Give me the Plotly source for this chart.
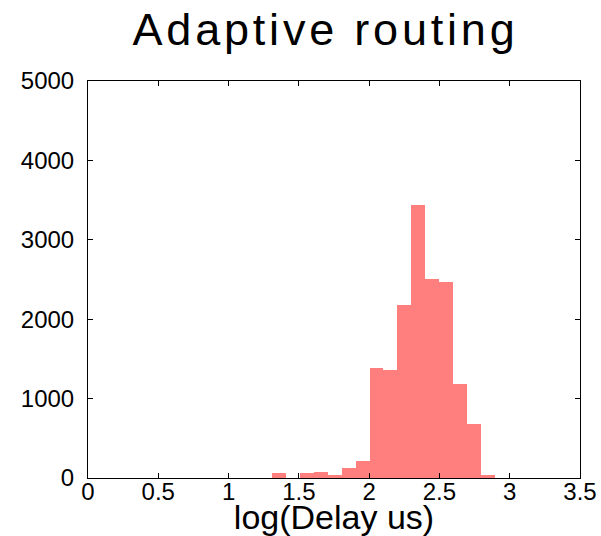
import plotly.graph_objects as go

# histogram of log10(delay in us)
bin_start = 1.31
bin_width = 0.099
counts = [60, 0, 60, 75, 35, 130, 220, 1380, 1355, 2180, 3440, 2505, 2470, 1185, 680, 35]

x_ticks = [0, 0.5, 1, 1.5, 2, 2.5, 3, 3.5]
x_ticktext = ["0", "0.5", "1", "1.5", "2", "2.5", "3", "3.5"]
y_ticks = [0, 1000, 2000, 3000, 4000, 5000]

centers = [bin_start + bin_width * (i + 0.5) for i in range(len(counts))]

fig = go.Figure()
fig.add_trace(go.Bar(
    x=centers, y=counts, width=[bin_width] * len(counts),
    marker=dict(color="rgba(255,0,0,0.5)", line=dict(width=0)),
    showlegend=False,
))

font = "Liberation Sans, Arial, sans-serif"
fig.update_layout(
    width=601, height=536,
    margin=dict(l=88, r=21, t=81, b=58),
    plot_bgcolor="white", paper_bgcolor="white",
    font=dict(family=font, color="black"),
    bargap=0,
    title=dict(text='<span style="letter-spacing:3.8px">Adaptive routing</span>',
               font=dict(size=45, family=font, color="black"),
               x=0.5416, xanchor="center", xref="container",
               y=1 - 45 / 536, yanchor="bottom"),
    xaxis=dict(range=[0, 3.5], tickvals=x_ticks, ticktext=x_ticktext,
               ticks="inside", ticklen=5, tickcolor="black", showline=True,
               linecolor="black", linewidth=1, mirror="ticks", showgrid=False,
               zeroline=False, tickfont=dict(size=24), automargin=False,
               ticklabelstandoff=-8,
               title=dict(text="log(Delay us)", font=dict(size=34))),
    yaxis=dict(range=[0, 5000], tickvals=y_ticks,
               ticks="inside", ticklen=5, tickcolor="black", showline=True,
               linecolor="black", linewidth=1, mirror="ticks", showgrid=False,
               zeroline=False, tickfont=dict(size=24), ticklabelstandoff=8,
               automargin=False),
)

fig.write_html("out.html", config={"displayModeBar": False},
               post_script="document.body.style.margin='0';document.body.style.overflow='hidden';")
